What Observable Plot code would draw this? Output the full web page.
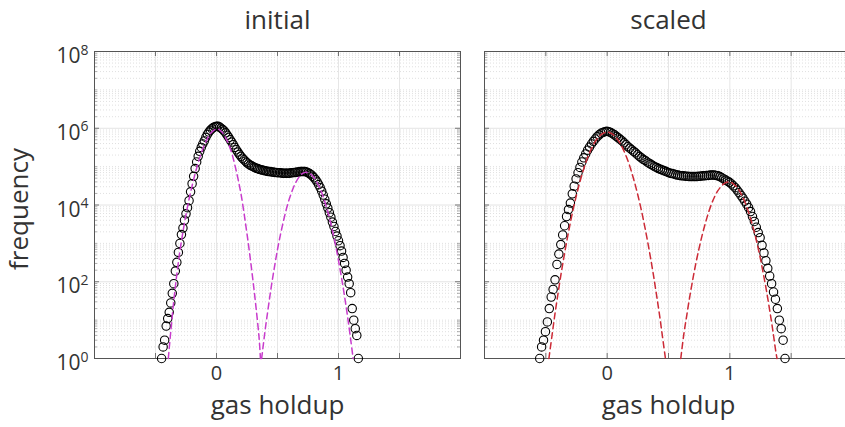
<!DOCTYPE html>
<html><head><meta charset="utf-8">
<script src="https://cdn.jsdelivr.net/npm/d3@7"></script>
<script src="https://cdn.jsdelivr.net/npm/@observablehq/plot@0.6"></script>
<style>
body{margin:0;background:#fff;}
#chart{position:relative;width:845px;height:427px;overflow:hidden;background:#fff;}
#chart svg{position:absolute;top:0;}
</style></head><body><div id="chart"></div>
<script>
const titles = ["initial", "scaled"];
const xLabel = "gas holdup";
const yLabel = "frequency";
const xTicks = [0, 1];
const xGrid = [-0.5, 0, 0.5, 1, 1.5];
const yTicks = [1e0, 1e2, 1e4, 1e6, 1e8];

// histogram bin centres: start + i*step
const initialStart = -0.45, initialStep = 0.0125;
const initialFreq = [1, 2, 3, 7, 11, 16, 28, 50, 89, 190,
 320, 580, 1000, 1700, 2500, 4000, 5900, 8500, 13000, 22000,
 36000, 56000, 89000, 132000, 186000, 251000, 316000, 389000, 468000, 575000,
 692000, 794000, 891000, 977000, 1050000, 1100000, 1120000, 1120000, 1070000, 1000000,
 933000, 851000, 759000, 661000, 575000, 501000, 437000, 372000, 316000, 275000,
 240000, 209000, 186000, 166000, 151000, 138000, 126000, 117000, 110000, 105000,
 100000, 95500, 91200, 89100, 85100, 83200, 81300, 79400, 77600, 75900,
 74100, 74100, 72400, 72400, 70800, 70800, 69200, 69200, 69200, 67600,
 67600, 67600, 67600, 67600, 67600, 69200, 69200, 70800, 70800, 72400,
 72400, 74100, 74100, 74100, 74100, 72400, 69200, 66100, 61700, 56200,
 51300, 45700, 39800, 33900, 28200, 22900, 18200, 14100, 10700, 8300,
 6300, 4800, 3600, 2750, 2040, 1550, 1170, 870, 630, 430,
 300, 200, 132, 89, 52, 20, 10, 6, 4, 1];

const scaledStart = -0.55, scaledStep = 0.015625;
const scaledFreq = [1, 2, 3, 5, 9, 20, 40, 63, 112, 282,
 525, 933, 1660, 2880, 5010, 7590, 11200, 19500, 30900, 47900,
 69200, 95500, 132000, 170000, 214000, 269000, 324000, 389000, 457000, 525000,
 603000, 676000, 741000, 776000, 813000, 832000, 813000, 776000, 724000, 676000,
 617000, 562000, 513000, 468000, 417000, 372000, 331000, 302000, 275000, 251000,
 229000, 204000, 186000, 170000, 155000, 145000, 132000, 123000, 115000, 107000,
 100000, 95500, 89100, 85100, 81300, 77600, 74100, 70800, 67600, 66100,
 64600, 61700, 60300, 58900, 57500, 57500, 56200, 56200, 55000, 55000,
 55000, 55000, 55000, 56200, 56200, 57500, 57500, 58900, 58900, 60300,
 60300, 60300, 58900, 57500, 55000, 51300, 47900, 44700, 41700, 38900,
 35500, 31600, 28200, 24500, 20900, 17800, 15100, 12600, 10500, 8510,
 6760, 5010, 3720, 2630, 1910, 1410, 891, 562, 355, 224,
 141, 89, 54, 35, 20, 10, 6, 3, 1];

// fitted components (dashed)
const initFit1X = [-0.395, -0.375, -0.35, -0.325, -0.3, -0.275, -0.25, -0.225, -0.2, -0.175, -0.15, -0.125, -0.1, -0.075, -0.05, -0.025, 0, 0.025, 0.05, 0.075, 0.1, 0.125, 0.15, 0.175, 0.2, 0.225, 0.25, 0.275, 0.3, 0.325, 0.35, 0.36];
const initFit1Y = [1, 5, 32, 158, 631, 2000, 5620, 14100, 31600, 66100, 126000, 224000, 363000, 537000, 724000, 871000, 955000, 912000, 759000, 562000, 380000, 224000, 112000, 50100, 20000, 6310, 1780, 447, 100, 20, 3.2, 1];
const initFit2X = [0.37, 0.4, 0.425, 0.45, 0.475, 0.5, 0.525, 0.55, 0.575, 0.6, 0.625, 0.65, 0.675, 0.7, 0.725, 0.75, 0.775, 0.8, 0.825, 0.85, 0.875, 0.9, 0.925, 0.95, 0.975, 1.0, 1.025, 1.05, 1.075, 1.1, 1.12];
const initFit2Y = [1, 5.9, 22, 78, 240, 692, 1740, 3980, 8320, 15500, 25700, 38900, 52500, 64600, 70800, 69200, 63100, 51300, 38000, 26300, 16200, 9120, 4680, 2190, 933, 355, 126, 41, 12, 3.1, 1];
const scaledFit1X = [-0.475, -0.45, -0.425, -0.4, -0.375, -0.35, -0.325, -0.3, -0.275, -0.25, -0.225, -0.2, -0.175, -0.15, -0.125, -0.1, -0.075, -0.05, -0.025, 0, 0.025, 0.05, 0.075, 0.1, 0.125, 0.15, 0.175, 0.2, 0.225, 0.25, 0.275, 0.3, 0.325, 0.35, 0.375, 0.4, 0.425, 0.45, 0.475];
const scaledFit1Y = [1, 3.9, 15, 51, 166, 490, 1350, 3470, 8320, 18200, 37200, 70800, 126000, 204000, 309000, 437000, 562000, 676000, 759000, 794000, 759000, 676000, 562000, 437000, 309000, 204000, 126000, 70800, 37200, 18200, 8320, 3470, 1350, 490, 166, 51, 15, 3.9, 1];
const scaledFit2X = [0.6, 0.625, 0.65, 0.675, 0.7, 0.725, 0.75, 0.775, 0.8, 0.825, 0.85, 0.875, 0.9, 0.925, 0.95, 0.975, 1.0, 1.025, 1.05, 1.075, 1.1, 1.125, 1.15, 1.175, 1.2, 1.225, 1.25, 1.275, 1.3, 1.325, 1.35, 1.375, 1.385];
const scaledFit2Y = [1, 4.3, 14, 44, 124, 325, 760, 1660, 3320, 6170, 10500, 16200, 22900, 29500, 35500, 39000, 39800, 36300, 30900, 24500, 17400, 11500, 6920, 3800, 1950, 910, 390, 150, 55, 18, 5.5, 1.5, 1];

const fitColors = ["#c83ccc", "#cc2a36"];

const H = 427, MT = 51, MB = 69;
const minorY = [];
for (let k = 0; k < 8; k++) for (let m = 2; m <= 9; m++) minorY.push(m * 10 ** k);
const decades = [1e1, 1e3, 1e5, 1e7];

function zip(xs, ys) { return xs.map((x, i) => ({x, y: ys[i]})); }

function panel({title, freq, start, step, fits, color, width, ml, mr, showY, left}) {
  const bins = freq.map((f, i) => ({x: start + i * step, f}));
  const fh = H - MT - MB;
  const fw = width - ml - mr;
  const marks = [
    Plot.ruleY(minorY.concat(decades), {stroke: "#d2d2d2", strokeDasharray: "1,2", strokeWidth: 0.7}),
    Plot.ruleY(yTicks, {stroke: "#e4e4e4", strokeWidth: 1}),
    Plot.ruleX(xGrid, {stroke: "#e6e6e6", strokeWidth: 1}),
    Plot.tickX(xGrid, {x: d => d, insetBottom: fh - 5, stroke: "#555", strokeWidth: 0.8}),
    Plot.tickX(xGrid, {x: d => d, insetTop: fh - 5, stroke: "#555", strokeWidth: 0.8}),
    Plot.tickY(yTicks, {y: d => d, insetRight: fw - 5, stroke: "#555", strokeWidth: 0.8}),
    Plot.tickY(minorY.concat(decades), {y: d => d, insetRight: fw - 3, stroke: "#777", strokeWidth: 0.6}),
    Plot.tickY(yTicks, {y: d => d, insetLeft: fw - 5, stroke: "#555", strokeWidth: 0.8}),
    Plot.tickY(minorY.concat(decades), {y: d => d, insetLeft: fw - 3, stroke: "#777", strokeWidth: 0.6}),
    Plot.frame({stroke: "#555", strokeWidth: 1}),
    Plot.dot(bins, {x: "x", y: "f", r: 4.2, stroke: "#000", strokeWidth: 1.1, fill: "none"}),
    ...fits.map(f => Plot.line(f, {x: "x", y: "y", stroke: color, strokeWidth: 1.5, strokeDasharray: "6,4", curve: "catmull-rom"})),
    Plot.axisX(xTicks, {tickSize: 0, tickPadding: 7, fontSize: 20, label: null, fill: "#333", tickFormat: d => String(d)}),
    Plot.text([title], {frameAnchor: "top", dy: -23, lineAnchor: "bottom", fontSize: 26, fill: "#333"}),
    Plot.text([xLabel], {frameAnchor: "bottom", dy: 55, lineAnchor: "bottom", fontSize: 26, fill: "#333"})
  ];
  if (showY) {
    marks.push(Plot.axisY(yTicks, {tickSize: 0, tickPadding: 6, fontSize: 21, dy: 5, label: null, fill: "#333",
      tickFormat: d => "10^" + Math.round(Math.log10(d))}));
    marks.push(Plot.text([yLabel], {frameAnchor: "left", dx: -67, dy: 4, rotate: -90, textAnchor: "middle", lineAnchor: "bottom", fontSize: 26, fill: "#333"}));
  }
  const svg = Plot.plot({
    width, height: H, marginLeft: ml, marginRight: mr, marginTop: MT, marginBottom: MB,
    style: {fontFamily: "'Open Sans', sans-serif", background: "transparent", color: "#333", overflow: "visible"},
    x: {domain: [-1, 2]},
    y: {type: "log", domain: [1, 1e8], axis: showY ? undefined : null},
    marks
  });
  svg.style.left = left + "px";
  svg.querySelectorAll('g[aria-label="y-axis tick label"] text').forEach(t => {
    const parts = t.textContent.split("^");
    if (parts.length < 2) return;
    t.textContent = parts[0];
    const ts = document.createElementNS("http://www.w3.org/2000/svg", "tspan");
    ts.setAttribute("dy", "-0.62em");
    ts.setAttribute("font-size", "14");
    ts.textContent = parts[1];
    t.appendChild(ts);
  });
  return svg;
}

const chart = document.getElementById("chart");
chart.appendChild(panel({
  title: titles[0], freq: initialFreq, start: initialStart, step: initialStep,
  fits: [zip(initFit1X, initFit1Y), zip(initFit2X, initFit2Y)], color: fitColors[0],
  width: 472, ml: 94, mr: 12, showY: true, left: 0
}));
chart.appendChild(panel({
  title: titles[1], freq: scaledFreq, start: scaledStart, step: scaledStep,
  fits: [zip(scaledFit1X, scaledFit1Y), zip(scaledFit2X, scaledFit2Y)], color: fitColors[1],
  width: 380, ml: 12, mr: 0, showY: false, left: 472
}));
</script></body></html>
